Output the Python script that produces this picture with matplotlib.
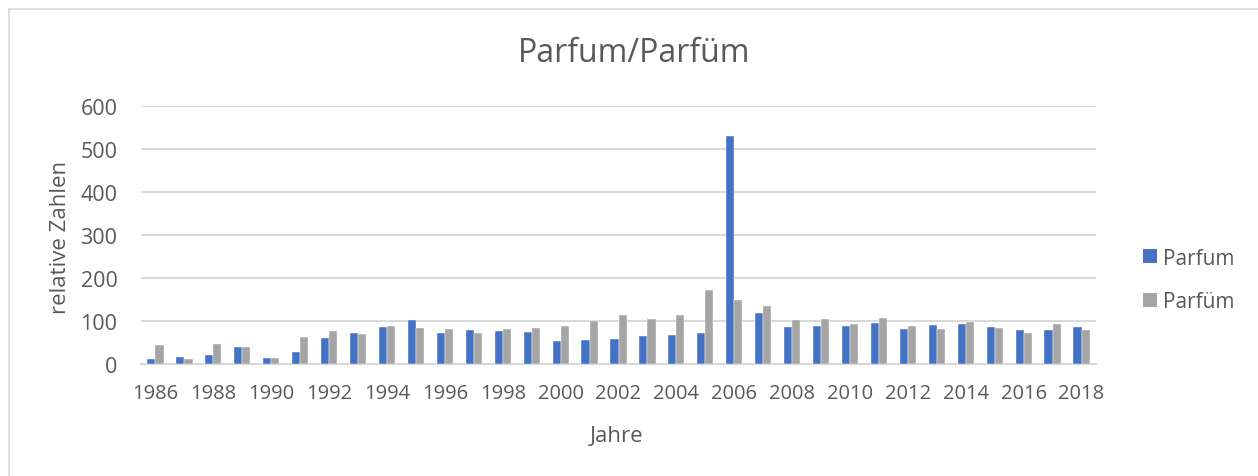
import matplotlib.pyplot as plt
import numpy as np
from matplotlib.lines import Line2D
from matplotlib.patches import Patch

plt.rcParams["font.family"] = ["Open Sans", "DejaVu Sans"]

years = list(range(1986, 2019))
parfum = [11, 17, 22, 40, 15, 29, 60, 71, 87, 103, 71,
          79, 77, 75, 54, 56, 59, 64, 67, 72, 530, 119,
          85, 89, 89, 96, 82, 91, 92, 87, 80, 78, 87]
parfuem = [44, 12, 47, 40, 15, 63, 77, 70, 89, 83, 81,
           73, 82, 83, 89, 99, 115, 104, 114, 172, 150, 134,
           102, 105, 92, 107, 89, 81, 98, 83, 73, 94, 78]

BLUE = "#4472C4"
GRAY = "#A5A5A5"
TEXT = "#595959"
GRID = "#D9D9D9"

W, H = 1258, 477
fig = plt.figure(figsize=(W / 100, H / 100), dpi=100)
ax = fig.add_axes([141 / W, 1 - 365 / H, (1096 - 141) / W, (365 - 107) / H])

x = np.arange(len(years))
bw = 0.28
ax.bar(x - bw / 2, parfum, width=bw, color=BLUE, edgecolor="white", linewidth=0.3, zorder=3)
ax.bar(x + bw / 2, parfuem, width=bw, color=GRAY, edgecolor="white", linewidth=0.3, zorder=3)

ax.set_xlim(-0.5, len(years) - 0.5)
ax.set_ylim(0, 600)
ax.set_yticks(range(0, 601, 100))
ax.set_xticks(x[::2])
ax.set_xticklabels([str(y) for y in years[::2]])
ax.yaxis.grid(True, color=GRID, linewidth=1.5, zorder=0)
for s in ["top", "right", "left"]:
    ax.spines[s].set_visible(False)
ax.spines["bottom"].set_color(GRID)
ax.spines["bottom"].set_linewidth(1.5)
ax.tick_params(axis="both", length=0, colors=TEXT)
ax.tick_params(axis="y", labelsize=15.5, pad=17)
ax.tick_params(axis="x", labelsize=14.5, pad=14)

fig.text(617 / W, 1 - 437 / H, "Jahre", fontsize=16, color=TEXT,
         ha="center", va="center")
fig.text(60 / W, 1 - 237 / H, "relative Zahlen", rotation=90, fontsize=16,
         color=TEXT, ha="center", va="center")
fig.text(634 / W, 1 - 53 / H, "Parfum/Parfüm", fontsize=23, color=TEXT,
         ha="center", va="center")

handles = [Patch(facecolor=BLUE), Patch(facecolor=GRAY)]
fig.legend(handles, ["Parfum", "Parfüm"], loc="center left",
           bbox_to_anchor=(1143 / W, 1 - 281 / H), frameon=False,
           borderpad=0, borderaxespad=0,
           fontsize=15, labelcolor=TEXT, handlelength=0.65, handleheight=0.65,
           handletextpad=0.3, labelspacing=1.1)

# outer chart frame (left and top edges visible)
fig.add_artist(Line2D([8.5 / W, 8.5 / W], [0, 1 - 9.5 / H], color=GRID, linewidth=1.2))
fig.add_artist(Line2D([8.5 / W, 1], [1 - 9.5 / H, 1 - 9.5 / H], color=GRID, linewidth=1.2))

fig.savefig("out.png", dpi=100)
